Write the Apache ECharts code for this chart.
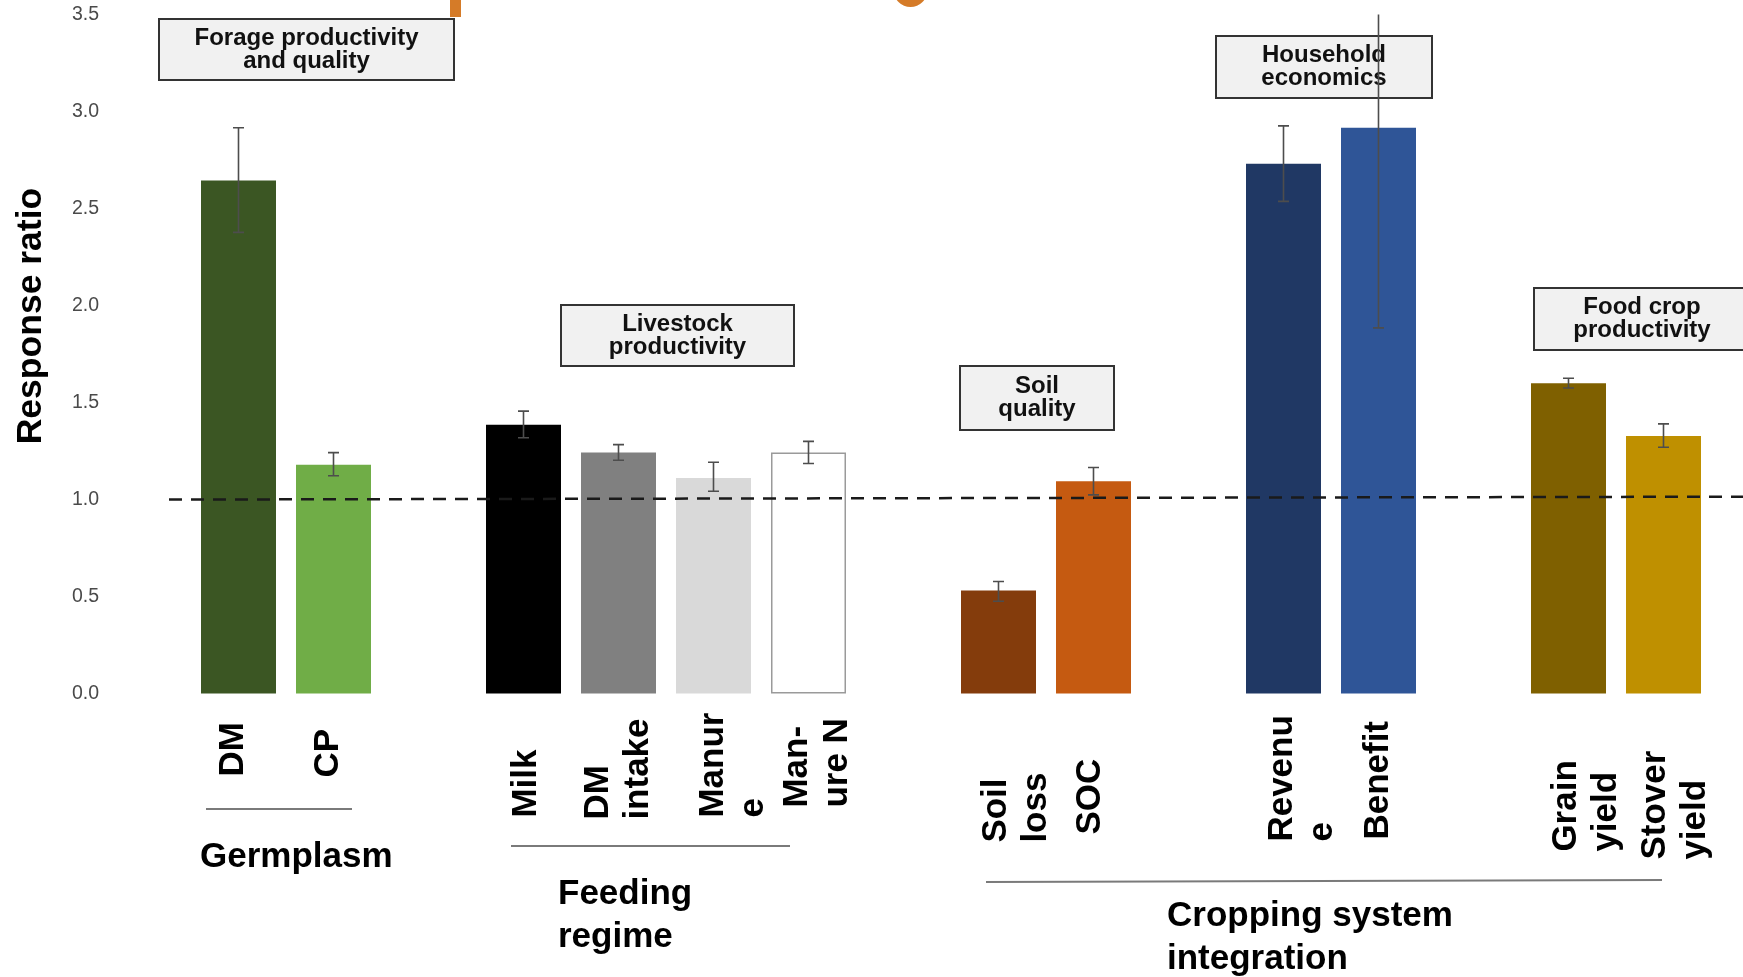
<!DOCTYPE html>
<html>
<head>
<meta charset="utf-8">
<title>Response ratio</title>
<script src="https://cdn.jsdelivr.net/npm/echarts@6/dist/echarts.min.js"></script>
<style>
  html, body { margin: 0; padding: 0; background: #fff; }
  #chart { width: 1743px; height: 977px; }
</style>
</head>
<body>
<div id="chart"></div>
<script>
// bar categories, '' is an empty slot between groups
const categories = ['DM', 'CP', '', 'Milk', 'DM\nintake', 'Manur\ne', 'Man-\nure N', '', 'Soil\nloss', 'SOC', '', 'Revenu\ne', 'Benefit', '', 'Grain\nyield', 'Stover\nyield'];
const ratio   = [2.645, 1.180, null, 1.386, 1.243, 1.111, 1.243, null, 0.531, 1.095, null, 2.731, 2.916, null, 1.599, 1.328];
const errLow  = [2.377, 1.123, null, 1.319, 1.203, 1.043, 1.186, null, 0.476, 1.024, null, 2.537, 1.885, null, 1.575, 1.270];
const errHigh = [2.916, 1.242, null, 1.456, 1.283, 1.192, 1.300, null, 0.578, 1.165, null, 2.926, 3.600, null, 1.625, 1.390];
const refLine = [1.0, 1.015]; // dashed no-effect line, left and right end

const groupNames = ['Germplasm', 'Feeding\nregime', 'Cropping system\nintegration'];
const boxNames = ['Forage productivity\nand quality', 'Livestock\nproductivity', 'Soil\nquality', 'Household\neconomics', 'Food crop\nproductivity'];

// styling
const barColors = ['#3b5623', '#70ad47', null, '#000000', '#808080', '#d9d9d9', '#ffffff', null, '#843c0c', '#c55a11', null, '#203864', '#2f5597', null, '#7f6000', '#bf9000'];
// rotated bar labels: [px below the baseline where the text starts, px shift right]
const labelNudge = [[83, -5], [84, -5], [0, 0], [124, 3], [126, 0], [124, 20], [114, 9], [0, 0], [149, 18], [141, -3], [0, 0], [148, 19], [146, 0], [0, 0], [158, 18], [166, 12]];

const chart = echarts.init(document.getElementById('chart'));

const GRID_TOP = 14.5, GRID_BOTTOM = 283.4;
const boldFont = '"Liberation Sans", Arial, sans-serif';

const errData = [];
errLow.forEach((lo, i) => { if (lo != null) errData.push([i, lo, errHigh[i]]); });
const labelData = [];
categories.forEach((c, i) => { if (c) labelData.push([i, 0]); });

function box(x, y, w, h, text) {
  return {
    type: 'group', z: 100,
    children: [
      { type: 'rect', shape: { x: x, y: y, width: w, height: h }, style: { fill: '#f1f1f1', stroke: '#333', lineWidth: 2 } },
      { type: 'text', x: x + w / 2, y: y + h / 2,
        style: { text: text, fill: '#111', font: 'bold 24px ' + boldFont, lineHeight: 23,
                 align: 'center', verticalAlign: 'middle', textAlign: 'center', textVerticalAlign: 'middle' } }
    ]
  };
}
function groupTitle(x, y, text) {
  return { type: 'text', x: x, y: y, z: 100,
    style: { text: text, fill: '#000', font: 'bold 35px ' + boldFont, lineHeight: 43,
             align: 'left', verticalAlign: 'middle', textAlign: 'left', textVerticalAlign: 'middle' } };
}
function rule(x1, y1, x2, y2) {
  return { type: 'line', z: 100, shape: { x1: x1, y1: y1, x2: x2, y2: y2 }, style: { stroke: '#7a7a7a', lineWidth: 2 } };
}

chart.setOption({
  backgroundColor: '#fff',
  animation: false,
  grid: [
    { left: 191, right: 32, top: GRID_TOP, bottom: GRID_BOTTOM, outerBoundsMode: 'none' },
    { left: 169, right: 0, top: GRID_TOP, bottom: GRID_BOTTOM, outerBoundsMode: 'none' }
  ],
  xAxis: [
    {
      type: 'category', gridIndex: 0, data: categories,
      axisLine: { show: false }, axisTick: { show: false }, axisLabel: { show: false }
    },
    { type: 'value', gridIndex: 1, min: 0, max: 1, show: false }
  ],
  yAxis: [
    {
      type: 'value', gridIndex: 0, min: 0, max: 3.5, interval: 0.5,
      axisLine: { show: false }, axisTick: { show: false }, splitLine: { show: false },
      axisLabel: { margin: 92, fontSize: 19.5, color: '#4a4a4a', fontFamily: boldFont,
                   formatter: v => v.toFixed(1) },
      name: 'Response ratio', nameLocation: 'middle', nameGap: 142,
      nameTextStyle: { fontSize: 35.5, fontWeight: 'bold', color: '#000', fontFamily: boldFont, padding: [0, 0, 0, 76] }
    },
    { type: 'value', gridIndex: 1, min: 0, max: 3.5, show: false }
  ],
  series: [
    {
      type: 'bar', xAxisIndex: 0, yAxisIndex: 0, barWidth: 75, z: 2, silent: true,
      data: ratio.map((v, i) => v == null ? '-' : {
        value: v,
        itemStyle: i === 6
          ? { color: barColors[i], borderColor: '#9a9a9a', borderWidth: 1.5 }
          : { color: barColors[i] }
      })
    },
    {
      type: 'line', xAxisIndex: 1, yAxisIndex: 1, z: 3, silent: true,
      showSymbol: false, symbol: 'none',
      data: [[0, refLine[0]], [1, refLine[1]]],
      lineStyle: { color: '#1a1a1a', width: 2.5, type: [13, 9] }
    },
    {
      // error bars
      type: 'custom', xAxisIndex: 0, yAxisIndex: 0, z: 4, silent: true, clip: true,
      data: errData,
      encode: { x: 0, y: [1, 2] },
      renderItem: function (params, api) {
        const i = api.value(0);
        const lo = api.coord([i, api.value(1)]);
        const hi = api.coord([i, api.value(2)]);
        const cap = 5.5;
        const st = { stroke: '#4d4d4d', lineWidth: 1.6 };
        return { type: 'group', children: [
          { type: 'line', shape: { x1: lo[0], y1: lo[1], x2: hi[0], y2: hi[1] }, style: st },
          { type: 'line', shape: { x1: lo[0] - cap, y1: lo[1], x2: lo[0] + cap, y2: lo[1] }, style: st },
          { type: 'line', shape: { x1: hi[0] - cap, y1: hi[1], x2: hi[0] + cap, y2: hi[1] }, style: st }
        ] };
      }
    },
    {
      // vertical bar labels under each bar
      type: 'custom', xAxisIndex: 0, yAxisIndex: 0, z: 5, silent: true, clip: false,
      data: labelData,
      encode: { x: 0, y: 1 },
      renderItem: function (params, api) {
        const i = api.value(0);
        const p = api.coord([i, 0]);
        const [below, shift] = labelNudge[i];
        return {
          type: 'text', x: p[0] + shift, y: p[1] + below, rotation: Math.PI / 2,
          style: { text: categories[i], fill: '#000', font: 'bold 35px ' + boldFont, lineHeight: 40,
                   align: 'left', verticalAlign: 'middle' }
        };
      }
    }
  ],
  graphic: [
    // leftovers of a cropped orange title above the chart
    { type: 'rect', z: 100, shape: { x: 450, y: 0, width: 11, height: 17 }, style: { fill: '#d57b28' } },
    { type: 'circle', z: 100, shape: { cx: 910.5, cy: -10, r: 17 }, style: { fill: '#d57b28' } },
    box(159, 19, 295, 61, boxNames[0]),
    box(561, 305, 233, 61, boxNames[1]),
    box(960, 366, 154, 64, boxNames[2]),
    box(1216, 36, 216, 62, boxNames[3]),
    box(1534, 288, 216, 62, boxNames[4]),
    rule(206, 809, 352, 809),
    rule(511, 846, 790, 846),
    rule(986, 882, 1662, 880),
    groupTitle(200, 857, groupNames[0]),
    groupTitle(558, 916, groupNames[1]),
    groupTitle(1167, 938, groupNames[2])
  ]
});
</script>
</body>
</html>
